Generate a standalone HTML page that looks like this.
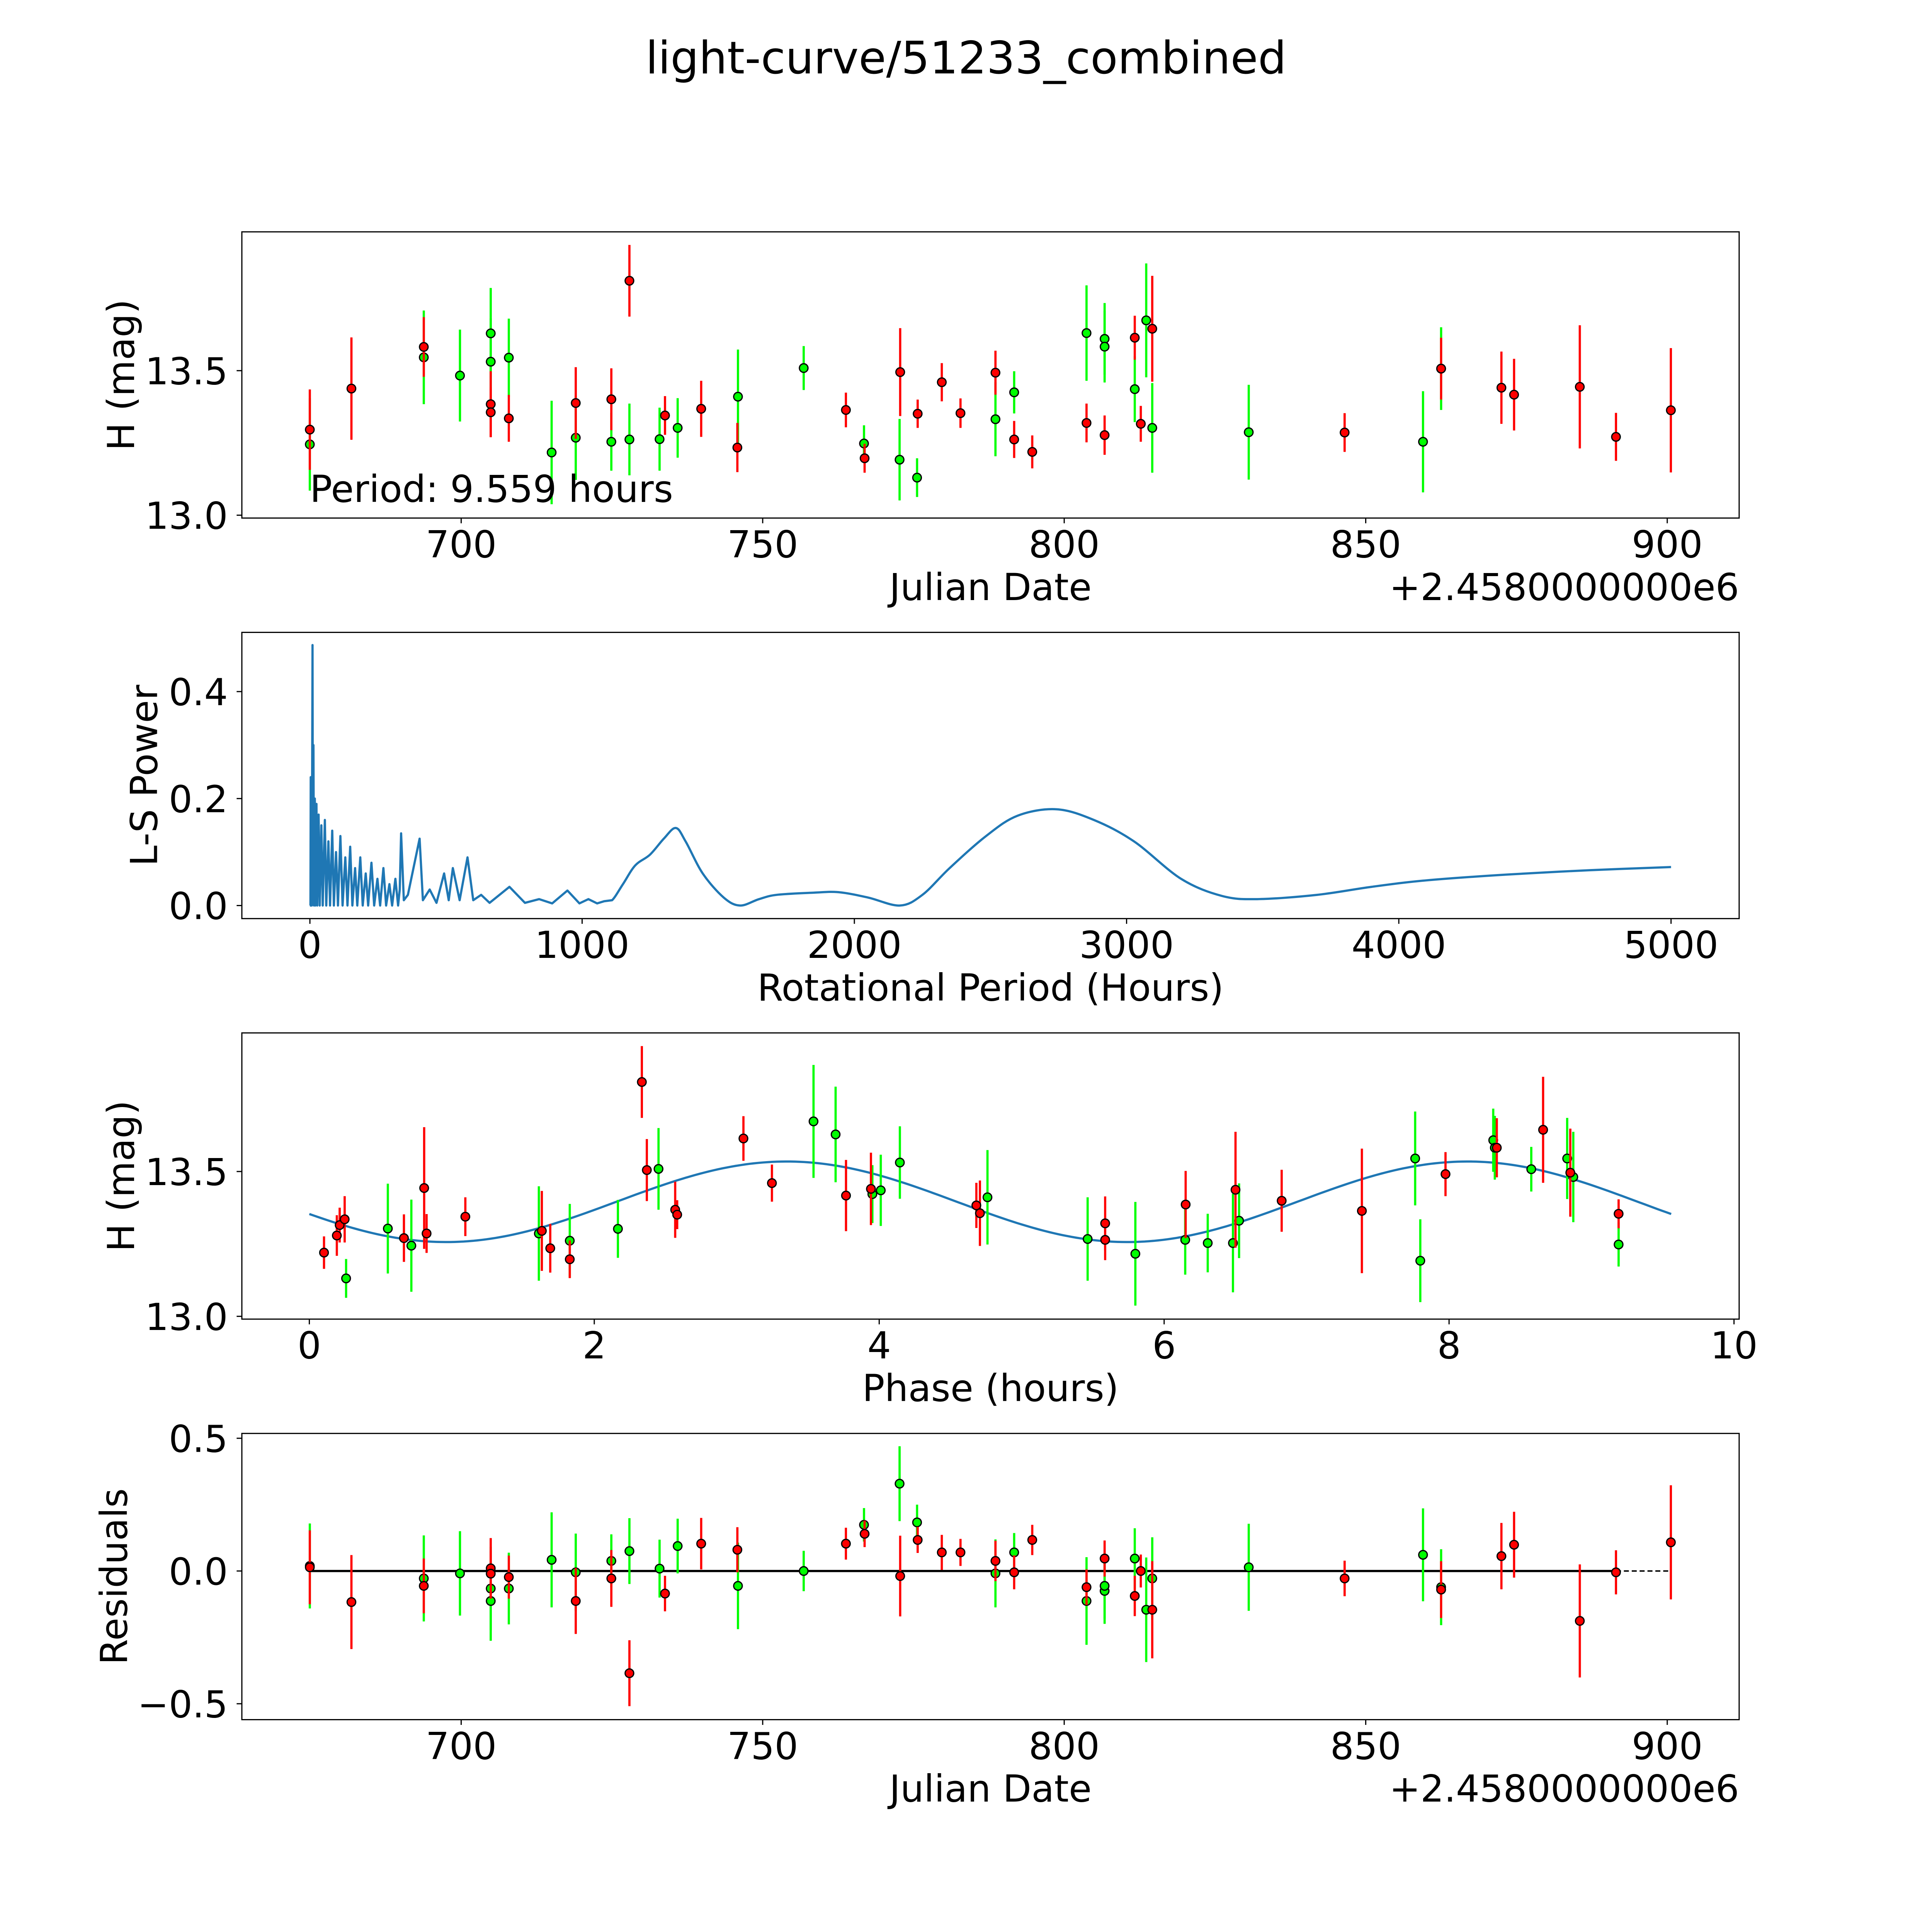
<!DOCTYPE html>
<html><head><meta charset="utf-8"><style>
html,body{margin:0;padding:0;background:#fff;overflow:hidden;width:100%;height:100%}
svg{display:block;position:absolute;left:0;top:0;width:100vw;height:100vh}
text{font-family:"DejaVu Sans","Liberation Sans",sans-serif;fill:#000}
</style></head><body>
<svg id="fig" viewBox="0 0 5400 5400" preserveAspectRatio="none" xmlns="http://www.w3.org/2000/svg">
<rect width="5400" height="5400" fill="#fff"/>
<text x="2700" y="205" font-size="125" text-anchor="middle">light-curve/51233_combined</text>
</svg>
<script>
// ---- Panel 1 / 4 data (dates offset from 2458000) ----
const redDates=[674.9,681.8,693.8,704.9,704.9,707.9,719.0,724.9,727.9,733.8,739.8,745.8,763.8,766.9,772.8,775.7,779.7,782.8,788.6,791.7,794.7,803.7,806.7,811.7,812.7,814.6,846.5,862.5,872.5,874.6,885.5,891.5,900.6];
const redMags=[13.296,13.438,13.582,13.384,13.356,13.335,13.388,13.401,13.811,13.345,13.368,13.234,13.364,13.197,13.495,13.351,13.460,13.353,13.493,13.262,13.219,13.319,13.277,13.614,13.316,13.645,13.286,13.507,13.441,13.417,13.444,13.271,13.363];
const redErrs=[0.139,0.177,0.103,0.114,0.086,0.081,0.124,0.107,0.124,0.067,0.097,0.085,0.06,0.05,0.152,0.049,0.066,0.051,0.076,0.064,0.057,0.067,0.068,0.076,0.062,0.183,0.067,0.107,0.125,0.124,0.213,0.083,0.215];
const redResid=[0.014,-0.117,-0.056,0.01,-0.01,-0.023,-0.113,-0.028,-0.385,-0.085,0.103,0.08,0.103,0.14,-0.019,0.117,0.07,0.07,0.038,-0.005,0.117,-0.061,0.047,-0.094,0,-0.146,-0.028,-0.07,0.056,0.099,-0.188,-0.005,0.108];
const grnDates=[674.9,693.8,699.8,704.9,704.9,707.9,715.0,719.0,724.9,727.9,732.9,735.9,745.9,756.8,766.8,772.7,775.6,788.6,791.7,803.7,806.7,806.7,811.7,813.6,814.6,830.6,859.5,862.5];
const grnMags=[13.245,13.546,13.483,13.629,13.531,13.545,13.217,13.268,13.254,13.262,13.263,13.302,13.41,13.509,13.248,13.192,13.13,13.332,13.425,13.63,13.61,13.583,13.436,13.674,13.302,13.287,13.254,13.507];
const grnErrs=[0.16,0.162,0.159,0.157,0.15,0.135,0.179,0.146,0.1,0.124,0.109,0.103,0.163,0.076,0.063,0.141,0.067,0.128,0.073,0.165,0.124,0.124,0.114,0.197,0.155,0.164,0.175,0.143];
const grnResid=[0.019,-0.028,-0.009,-0.066,-0.113,-0.066,0.042,-0.005,0.038,0.075,0.009,0.094,-0.056,0,0.174,0.329,0.183,-0.009,0.07,-0.113,-0.075,-0.056,0.047,-0.146,-0.028,0.014,0.061,-0.061];
// ---- Panel 3 (phase) ----
const redPhase=[0.103,0.193,0.213,0.248,0.664,0.806,0.823,1.095,1.632,1.691,1.828,2.334,2.369,2.568,2.582,3.047,3.247,3.767,3.942,4.682,4.707,5.586,5.586,6.151,6.501,6.825,7.388,7.975,8.335,8.660,8.851,9.19];
const redPhMag=[13.220,13.279,13.315,13.335,13.270,13.443,13.286,13.344,13.295,13.235,13.197,13.809,13.505,13.368,13.351,13.614,13.460,13.417,13.440,13.383,13.356,13.321,13.264,13.386,13.437,13.399,13.364,13.491,13.582,13.644,13.496,13.354];
const redPhErr=[0.056,0.07,0.06,0.08,0.082,0.21,0.067,0.067,0.138,0.084,0.065,0.124,0.107,0.097,0.05,0.077,0.064,0.123,0.125,0.078,0.113,0.093,0.07,0.116,0.2,0.107,0.215,0.076,0.102,0.183,0.152,0.05];
const grnPhase=[0.258,0.551,0.716,1.611,1.828,2.166,2.451,3.539,3.694,3.952,4.011,4.145,4.760,5.463,5.798,6.148,6.306,6.483,6.526,7.762,7.798,8.310,8.321,8.577,8.829,8.872,9.19];
const grnPhMag=[13.131,13.303,13.244,13.286,13.261,13.302,13.509,13.673,13.628,13.422,13.435,13.531,13.411,13.267,13.216,13.264,13.253,13.253,13.330,13.545,13.192,13.608,13.582,13.508,13.545,13.481,13.248];
const grnPhErr=[0.067,0.155,0.159,0.163,0.127,0.1,0.141,0.195,0.165,0.1,0.123,0.125,0.163,0.144,0.179,0.12,0.101,0.17,0.129,0.162,0.143,0.109,0.11,0.077,0.14,0.156,0.076];
const fitParams=[13.3955,0.139,3.35,4.7795,9.559]; // mean, amp, peak phase, half period, period
// ---- Panel 2 periodogram ----
const lsPeriod=[0,2,3,4,6,7,9.56,11,13,15,18,20,24,27,32,36,42,47,55,60,68,74,82,88,96,103,112,120,130,138,148,156,166,174,185,194,205,214,226,236,248,258,270,280,292,302,314,324,330,335,345,360,403,415,440,465,493,510,525,550,579,600,629,660,733,790,842,890,946,990,1023,1055,1081,1110,1150,1195,1249,1300,1344,1380,1443,1520,1580,1650,1715,1850,1941,2050,2167,2250,2350,2484,2600,2742,2880,3027,3200,3350,3480,3700,3900,4100,4400,4700,5000];
const lsPower=[0,0,0.24,0,0.2,0,0.487,0.02,0.3,0,0.2,0,0.19,0,0.17,0,0.15,0,0.16,0,0.12,0,0.14,0,0.1,0,0.13,0,0.09,0,0.11,0,0.07,0,0.09,0,0.06,0,0.08,0,0.05,0,0.07,0,0.04,0,0.05,0,0.03,0.135,0.01,0.02,0.125,0.01,0.03,0.005,0.06,0.01,0.07,0.01,0.09,0.01,0.02,0.005,0.035,0.005,0.012,0.004,0.028,0.004,0.012,0.004,0.008,0.01,0.04,0.075,0.095,0.125,0.145,0.12,0.06,0.015,0,0.012,0.02,0.024,0.025,0.015,0,0.02,0.07,0.13,0.168,0.18,0.16,0.12,0.05,0.018,0.012,0.02,0.035,0.047,0.058,0.066,0.072];
const dateTicks=[700,750,800,850,900];

const svg=document.getElementById('fig');
const NS='http://www.w3.org/2000/svg';
const FS=104, LW=6.2;
function mk(tag,attrs,parent){const e=document.createElementNS(NS,tag);for(const k in attrs)e.setAttribute(k,attrs[k]);(parent||svg).appendChild(e);return e;}
function txt(s,x,y,size,anchor,parent,rot){const t=mk('text',{x:x,y:y,'font-size':size,'text-anchor':anchor||'middle'},parent);if(rot)t.setAttribute('transform','rotate(-90 '+x+' '+y+')');t.textContent=s;return t;}
function scale(d0,d1,r0,r1){return v=>r0+(v-d0)*(r1-r0)/(d1-d0);}

const L=676,R=4861,CX=(L+R)/2;
function axes(name,T,B,xs,ys,xticks,xlabels,yticks,ylabels){
  const g=mk('g',{});
  
  
  xticks.forEach((v,i)=>{const x=xs(v);mk('line',{x1:x,x2:x,y1:B,y2:B+14.6,stroke:'#000','stroke-width':3.3},g);
    const t=txt(xlabels[i],x,B+110,FS,'middle',g);});
  yticks.forEach((v,i)=>{const y=ys(v);mk('line',{x1:L-14.6,x2:L,y1:y,y2:y,stroke:'#000','stroke-width':3.3},g);
    const t=txt(ylabels[i],L-39,y+38,FS,'end',g);});
  return g;
}
function frame(T,B,name){const r=mk('rect',{x:L,y:T,width:R-L,height:B-T,fill:'none',stroke:'#000','stroke-width':3.3});
  }
function points(xs,ys,X,Y,E,color,name,clipId){
  const g=mk('g',{'clip-path':'url(#'+clipId+')'});
  
  
  X.forEach((v,i)=>{const x=xs(v);mk('line',{x1:x,x2:x,y1:ys(Y[i]-E[i]),y2:ys(Y[i]+E[i]),stroke:color,'stroke-width':LW},g);});
  X.forEach((v,i)=>{const c=mk('circle',{cx:xs(v),cy:ys(Y[i]),r:12,fill:color,stroke:'#000','stroke-width':3.5},g);
    });
}
function clip(id,T,B){const cp=mk('clipPath',{id:id});mk('rect',{x:L,y:T,width:R-L,height:B-T},cp);}
function label(s,x,y,name,rot){const t=txt(s,x,y,FS,'middle',null,rot);return t;}

// Panel 1
{const T=648,B=1448;clip('c1',T,B);
 const xs=scale(700,900,1289,4660),ys=scale(13,13.5,1440,1036);
 axes('lightcurve-axes',T,B,xs,ys,dateTicks,dateTicks.map(String),[13,13.5],['13.0','13.5']);
 points(xs,ys,grnDates,grnMags,grnErrs,'#00ff00','green-observations','c1');
 points(xs,ys,redDates,redMags,redErrs,'#ff0000','red-observations','c1');
 frame(T,B,'lightcurve-frame');
 let t=txt('Period: 9.559 hours',xs(674.9),1403,FS,'start');
 label('Julian Date',CX,1677,'x-axis-title');
 t=txt('+2.4580000000e6',R,1677,FS,'end');
 label('H (mag)',375,(T+B)/2,'y-axis-title',true);}
// Panel 2
{const T=1767.5,B=2567.5;clip('c2',T,B);
 const xs=scale(0,5000,866.2,4670.6),ys=scale(0,0.2,2531,2232);
 const xt=[0,1000,2000,3000,4000,5000];
 axes('periodogram-axes',T,B,xs,ys,xt,xt.map(String),[0,0.2,0.4],['0.0','0.2','0.4']);
 const P=lsPeriod.map((p,i)=>[xs(p),ys(lsPower[i])]);
 let d='M'+P[0][0].toFixed(1)+' '+P[0][1].toFixed(1);
 for(let i=1;i<P.length;i++){
   if(lsPeriod[i-1]>=1100&&i>=2&&i<P.length){
     const p0=P[i-2],p1=P[i-1],p2=P[i],p3=P[Math.min(i+1,P.length-1)];
     const c1=[p1[0]+(p2[0]-p0[0])/6,p1[1]+(p2[1]-p0[1])/6],c2=[p2[0]-(p3[0]-p1[0])/6,p2[1]-(p3[1]-p1[1])/6];
     d+=' C'+c1[0].toFixed(1)+' '+c1[1].toFixed(1)+' '+c2[0].toFixed(1)+' '+c2[1].toFixed(1)+' '+p2[0].toFixed(1)+' '+p2[1].toFixed(1);
   } else d+=' L'+P[i][0].toFixed(1)+' '+P[i][1].toFixed(1);
 }
 const p=mk('path',{d:d,fill:'none',stroke:'#1f77b4','stroke-width':LW,'stroke-linejoin':'round','clip-path':'url(#c2)'});
 
 frame(T,B,'periodogram-frame');
 label('Rotational Period (Hours)',CX,B+229,'x-axis-title');
 label('L-S Power',439,(T+B)/2,'y-axis-title',true);}
// Panel 3
{const T=2887,B=3687;clip('c3',T,B);
 const xs=scale(0,10,864.6,4846.6),ys=scale(13,13.5,3679.2,3274.4);
 const xt=[0,2,4,6,8,10];
 axes('phase-axes',T,B,xs,ys,xt,xt.map(String),[13,13.5],['13.0','13.5']);
 const [m,a,ph,hp,Pd]=fitParams;let d='';
 for(let i=0;i<=300;i++){const f=Pd*i/300;const v=m+a*Math.cos(2*Math.PI*(f-ph)/hp);d+=(i?'L':'M')+xs(f).toFixed(1)+' '+ys(v).toFixed(1);}
 const p=mk('path',{d:d,fill:'none',stroke:'#1f77b4','stroke-width':LW});
 
 points(xs,ys,grnPhase,grnPhMag,grnPhErr,'#00ff00','green-phased-observations','c3');
 points(xs,ys,redPhase,redPhMag,redPhErr,'#ff0000','red-phased-observations','c3');
 frame(T,B,'phase-frame');
 label('Phase (hours)',CX,B+229,'x-axis-title');
 label('H (mag)',375,(T+B)/2,'y-axis-title',true);}
// Panel 4
{const T=4006.5,B=4806.5;clip('c4',T,B);
 const xs=scale(700,900,1289,4660),ys=scale(0,0.5,4391,4020);
 axes('residuals-axes',T,B,xs,ys,dateTicks,dateTicks.map(String),[-0.5,0,0.5],['\u22120.5','0.0','0.5']);
 let l=mk('line',{x1:xs(674.9),x2:xs(891.5),y1:ys(0),y2:ys(0),stroke:'#000','stroke-width':LW});
 
 l=mk('line',{x1:xs(891.5),x2:xs(900.6),y1:ys(0),y2:ys(0),stroke:'#000','stroke-width':4,'stroke-dasharray':'14 8'});
 
 points(xs,ys,grnDates,grnResid,grnErrs,'#00ff00','green-residuals','c4');
 points(xs,ys,redDates,redResid,redErrs,'#ff0000','red-residuals','c4');
 frame(T,B,'residuals-frame');
 label('Julian Date',CX,B+229,'x-axis-title');
 let t=txt('+2.4580000000e6',R,B+229,FS,'end');
 label('Residuals',355,(T+B)/2,'y-axis-title',true);}
</script>
</body></html>
